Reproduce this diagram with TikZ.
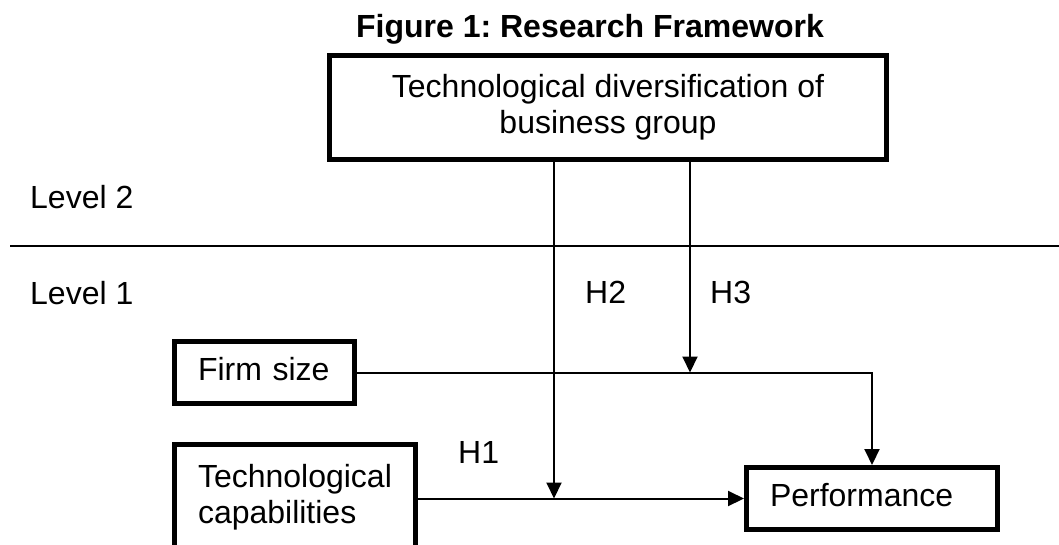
\documentclass[tikz,border=0pt]{standalone}
\usepackage{fontspec}
\setmainfont{Liberation Sans}
\usetikzlibrary{arrows.meta,positioning}
\frenchspacing

\begin{document}
\begin{tikzpicture}[x=1pt,y=-1pt,
        >={Triangle[length=16pt,width=15pt]},
        every node/.style={font=\fontsize{32}{36.2}\selectfont},
        varbox/.style={draw,line width=5pt,inner xsep=23.5pt,align=left},
        onerow/.style={varbox,text height=23pt,text depth=7pt,inner ysep=16pt},
        levtext/.style={inner sep=0pt,anchor=base west},
        conn/.style={line width=2pt}]
        \useasboundingbox (0,0) rectangle (1059,544);
        \node[anchor=base,font=\fontsize{32}{36.2}\selectfont\bfseries] (title) at (590,37) {Figure 1: Research Framework};
        \node[draw,line width=5pt,minimum width=557pt,minimum height=104pt,align=center] (group) at (608,107.5) {Technological diversification of\\business group};
        % levels
        \draw[line width=1.8pt] (10,246) -- (1059,246);
        \node[levtext] (lev2) at (30,208.5) {Level 2};
        \node[levtext] (lev1) at (30,304) {Level 1};
        % firm level variables
        \node[onerow,text width=133pt,anchor=north west] (firm) at (172,339) {Firm size};
        \node[varbox,text width=194pt,inner ysep=20pt,anchor=north west] (tech) at (172,442) {Technological\\capabilities};
        \node[onerow,text width=204pt,anchor=north west] (perf) at (744,465) {Performance};
        \coordinate (modB) at (690,0 |- firm.east);
        \coordinate (modA) at (554,0 |- perf.west);
        \draw[conn,->] (group.south -| modA) -- (modA);
        \draw[conn,->] (group.south -| modB) -- (modB);
        \draw[conn,->] (firm.east) -| (perf.north);
        \draw[conn,->] (perf.west -| tech.east) -- (perf.west);
        \node[levtext] (h1) at (458,463) {H1};
        \node[levtext] (h2) at (585,303) {H2};
        \node[levtext] (h3) at (710,303) {H3};
    \end{tikzpicture}
\end{document}
